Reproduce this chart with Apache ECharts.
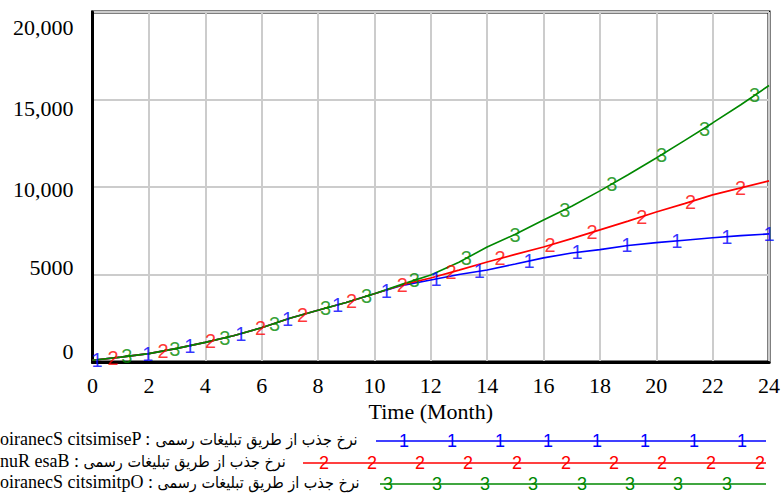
<!DOCTYPE html>
<html>
<head>
<meta charset="utf-8">
<script src="https://cdn.jsdelivr.net/npm/echarts@6/dist/echarts.min.js"></script>
<style>
  html, body { margin: 0; padding: 0; background: #fff; }
  #chart { width: 783px; height: 495px; }
</style>
</head>
<body>
<div id="chart"></div>
<script>
// ===== 数据 =====
const months = [0, 1, 2, 3, 4, 5, 6, 7, 8, 9, 10, 11, 12, 13, 14, 15, 16, 17, 18, 19, 20, 21, 22, 23, 24];
const pessimistic = [100, 280, 480, 780, 1120, 1500, 1960, 2500, 2960, 3400, 3900, 4380, 4690, 5000, 5260, 5600, 5950, 6230, 6420, 6660, 6820, 6960, 7100, 7220, 7320];
const baseRun = [100, 280, 480, 780, 1120, 1500, 1960, 2500, 2960, 3400, 3900, 4420, 4800, 5250, 5710, 6150, 6570, 7050, 7550, 8050, 8570, 9050, 9550, 9950, 10350];
const optimistic = [100, 280, 480, 780, 1120, 1500, 1960, 2500, 2960, 3400, 3900, 4450, 4970, 5700, 6570, 7300, 8110, 8900, 9780, 10700, 11660, 12650, 13660, 14700, 15800];

// 数字标记位置 [月, 值]
const pessimisticMarks = [[0.16, 130], [1.96, 470], [3.45, 920], [5.26, 1600], [6.92, 2460], [8.69, 3250], [10.42, 4080], [12.19, 4750], [13.72, 5200], [15.49, 5770], [17.19, 6270], [18.96, 6660], [20.73, 6900], [22.5, 7160], [24, 7320]];
const baseRunMarks = [[0.73, 220], [2.5, 620], [4.19, 1190], [5.96, 1940], [7.45, 2700], [9.19, 3480], [10.99, 4400], [12.72, 5130], [14.46, 5920], [16.23, 6690], [17.72, 7410], [19.49, 8300], [21.22, 9140], [22.99, 9940]];
const optimisticMarks = [[1.22, 320], [2.92, 760], [4.69, 1380], [6.46, 2200], [8.27, 3060], [9.72, 3750], [11.42, 4680], [13.26, 5920], [14.99, 7270], [16.76, 8680], [18.42, 10150], [20.19, 11820], [21.71, 13330], [23.49, 15230]];

const yTickLabels = ['0', '5000', '10,000', '15,000', '20,000'];
const legendLatin = ['oiranecS citsimiseP : ', 'nuR esaB : ', 'oiranecS citsimitpO : '];
const legendPersian = 'نرخ جذب از طریق تبلیغات رسمی';
const xAxisName = 'Time (Month)';

const colors = { blue: '#0000ff', red: '#ff0000', green: '#008800', grid: '#cccccc', ink: '#000000' };
const serif = '"Liberation Serif", "Times New Roman", serif';
const sans = '"Liberation Sans", Arial, sans-serif';
const persianFont = '"DejaVu Sans Condensed", "DejaVu Sans", sans-serif';

// y 轴标签偏移（原图标签比网格线更密）
const yLabelShift = [-11, -7, 2, 9, 15];

function lineSeries(name, values, color) {
  return {
    name: name,
    type: 'line',
    data: months.map(function (m, i) { return [m, values[i]]; }),
    showSymbol: false,
    lineStyle: { color: color, width: 1.6 },
    z: 3
  };
}

function markSeries(digit, marks, color) {
  return {
    type: 'scatter',
    data: marks,
    symbolSize: 1,
    itemStyle: { color: 'rgba(0,0,0,0)' },
    label: {
      show: true,
      position: 'inside',
      formatter: digit,
      color: color,
      fontFamily: sans,
      fontSize: 20
    },
    z: 4
  };
}

function legendRow(y, latin, color, digit, lineStart, marks) {
  const items = [{
    type: 'text',
    left: 0,
    top: y - 11,
    style: {
      text: '{e|' + latin + '}{p|' + legendPersian + '}',
      rich: {
        e: { fontFamily: serif, fontSize: 18, color: '#000' },
        p: { fontFamily: persianFont, fontSize: 16, color: '#000' }
      }
    }
  }, {
    type: 'line',
    shape: { x1: lineStart, y1: y, x2: 766, y2: y },
    style: { stroke: color, lineWidth: 1.6 }
  }];
  marks.forEach(function (x) {
    items.push({
      type: 'text',
      x: x,
      y: y,
      style: { text: digit, font: '18px ' + sans, fill: color, align: 'center', verticalAlign: 'middle' }
    });
  });
  return items;
}

// ===== 渲染 =====
const chart = echarts.init(document.getElementById('chart'), null, { renderer: 'svg' });

const rich = {};
yLabelShift.forEach(function (d, i) {
  rich['s' + i] = {
    fontFamily: serif,
    fontSize: 22,
    color: colors.ink,
    padding: d > 0 ? [2 * d, 0, 0, 0] : [0, 0, -2 * d, 0]
  };
});

chart.setOption({
  animation: false,
  grid: {
    left: 92.5, right: 12.5, top: 12, bottom: 133,
    show: true, borderColor: colors.ink, borderWidth: 3
  },
  xAxis: {
    type: 'value',
    min: 0,
    max: 24,
    interval: 2,
    name: xAxisName,
    nameLocation: 'middle',
    nameGap: 27,
    nameTextStyle: { fontFamily: serif, fontSize: 22, color: colors.ink },
    axisLine: { lineStyle: { color: colors.ink, width: 3 } },
    axisTick: { show: false },
    axisLabel: { fontFamily: serif, fontSize: 22, color: colors.ink, margin: 12 },
    splitLine: { lineStyle: { color: colors.grid, width: 2 } }
  },
  yAxis: {
    type: 'value',
    min: 0,
    max: 20000,
    interval: 5000,
    axisLine: { show: true, lineStyle: { color: colors.ink, width: 3 } },
    axisTick: { show: false },
    axisLabel: {
      margin: 19,
      formatter: function (v) {
        const i = Math.round(v / 5000);
        return '{s' + i + '|' + yTickLabels[i] + '}';
      },
      rich: rich
    },
    splitLine: { lineStyle: { color: colors.grid, width: 2 } }
  },
  series: [
    lineSeries(legendLatin[0] + legendPersian, pessimistic, colors.blue),
    lineSeries(legendLatin[1] + legendPersian, baseRun, colors.red),
    lineSeries(legendLatin[2] + legendPersian, optimistic, colors.green),
    markSeries('1', pessimisticMarks, colors.blue),
    markSeries('2', baseRunMarks, colors.red),
    markSeries('3', optimisticMarks, colors.green)
  ],
  graphic: [].concat(
    legendRow(441, legendLatin[0], colors.blue, '1', 376, [404, 452, 500, 548, 597, 645, 694, 742]),
    legendRow(463, legendLatin[1], colors.red, '2', 303, [324, 372, 420, 468, 517, 566, 614, 662, 711, 760]),
    legendRow(484, legendLatin[2], colors.green, '3', 380, [388, 437, 485, 533, 582, 630, 678, 727])
  )
});
</script>
</body>
</html>
